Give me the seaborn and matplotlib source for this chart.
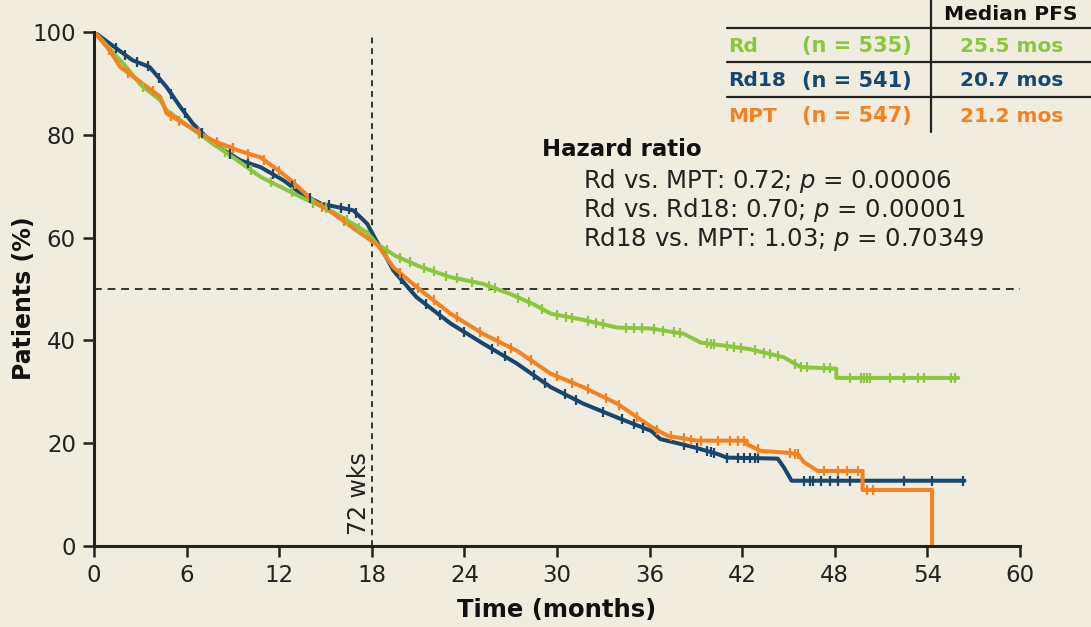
import numpy as np
import pandas as pd
import matplotlib.pyplot as plt
import seaborn as sns
from matplotlib.lines import Line2D

# Data -----------------------------------------------------------------------
rd_t = [0, 0.5, 1.0, 2.0, 3.0, 4.3, 4.7, 6.2, 7.7, 9.3, 10.8, 12.0, 13.4, 15.5, 17.7, 18.4,
        18.7, 19.5, 21.0, 23.1, 25.2, 27.0, 28.5, 29.6, 31.7, 33.9, 36.1, 38.2, 39.3, 42.5,
        44.7, 45.8, 48.1, 48.1, 56.0]
rd_v = [100, 98.5, 96.8, 93.5, 89.8, 86.7, 84.8, 81.5, 78.3, 75.0, 71.8, 70.0, 67.9, 65.0, 61.0, 58.5,
        58.1, 56.5, 54.5, 52.3, 51.0, 49.0, 47.0, 45.2, 44.0, 42.5, 42.3, 41.3, 39.6, 38.3,
        36.7, 34.8, 34.5, 32.7, 32.7]
rd_cens = [3.2, 6.8, 8.5, 10.2, 11.5, 12.8, 14.2, 15.0, 16.4, 17.2,
           19.0, 19.8, 20.5, 21.4, 22.0, 22.8, 23.5, 24.5, 25.6, 26.0, 27.5, 28.2, 29.0, 30.0,
           30.6, 31.0, 32.0, 32.5, 33.0, 34.5, 35.0, 35.5,
           36.3, 36.9, 37.6, 38.0, 39.7, 40.0, 40.2, 41.0, 41.5, 41.9, 42.8, 43.4, 43.8, 44.3,
           45.4, 45.8, 46.2, 47.3, 47.7, 49.0, 49.7, 49.9, 50.1, 50.3, 51.6, 52.5, 53.4, 53.8,
           55.5, 55.8]

rd18_t = [0, 1.0, 2.5, 3.6, 4.7, 5.6, 6.4, 7.7, 9.5, 10.8, 12.3, 13.4, 14.7, 16.8, 17.7, 18.4,
          18.7, 19.4, 20.9, 23.1, 25.2, 27.4, 29.6, 31.7, 33.9, 36.1, 36.7, 38.9, 40.4, 41.0,
          44.3, 44.7, 45.2, 56.4]
rd18_v = [100, 97.8, 94.5, 93.2, 89.3, 85.4, 82.2, 78.3, 75.0, 73.7, 71.1, 68.6, 66.6, 65.3, 62.7, 58.8,
          57.5, 53.6, 48.4, 43.3, 39.4, 35.5, 30.9, 27.7, 25.0, 22.4, 20.8, 19.2, 17.9, 17.2,
          17.0, 15.3, 12.7, 12.7]
rd18_cens = [1.4, 2.0, 2.8, 3.5, 4.2, 5.0, 5.9, 7.0, 8.8, 10.0, 11.6, 12.8, 14.0, 15.2,
             16.0, 16.5, 17.0, 19.9, 21.5, 22.4, 24.0, 25.8, 26.6, 28.5, 29.2, 30.5, 31.2,
             33.0, 34.2, 35.0, 35.6,
             38.2, 39.1, 39.7, 40.0, 40.2, 41.0, 41.7, 42.1, 42.5, 42.8, 43.0, 46.0, 46.4,
             46.6, 47.1, 47.7, 48.2, 49.0, 52.5, 54.3, 56.3]

mpt_t = [0, 1.0, 1.7, 3.0, 4.3, 4.7, 6.2, 7.7, 9.3, 10.8, 12.5, 14.2, 15.5, 17.0, 18.4, 19.4,
         20.9, 23.1, 25.2, 27.4, 29.6, 31.7, 33.9, 36.1, 37.2, 39.1, 42.3, 42.3, 43.2, 44.7,
         45.6, 46.0, 46.9, 49.8, 49.8, 54.3, 54.3]
mpt_v = [100, 96.5, 93.2, 90.3, 87.4, 84.2, 81.5, 78.9, 77.0, 75.6, 71.8, 67.2, 64.7, 61.4, 58.5, 54.2,
         50.4, 45.2, 41.3, 38.0, 33.5, 30.9, 27.7, 23.2, 21.4, 20.5, 20.5, 19.8, 18.5, 18.2,
         17.9, 16.3, 14.6, 14.6, 10.9, 10.9, 0]
mpt_cens = [1.0, 2.2, 3.8, 5.0, 5.5, 6.8, 8.0, 9.0, 10.0, 11.0, 12.0, 13.0, 14.8, 16.2,
            19.8, 21.0, 22.0, 23.5, 25.0, 26.2, 27.0, 28.3, 30.0, 31.0, 32.0, 33.2, 34.0, 35.2,
            36.5, 37.4, 38.2, 38.7, 39.3, 40.4, 41.2, 41.7, 42.1, 43.0, 45.1, 45.4, 45.6,
            47.3, 48.2, 48.8, 49.5, 50.1, 50.5]

arms = ["Rd", "Rd18", "MPT"]
n_pts = ["(n = 535)", "(n = 541)", "(n = 547)"]
median_pfs = ["25.5 mos", "20.7 mos", "21.2 mos"]
hazard_lines = [("Rd vs. MPT: 0.72; ", "0.00006"),
                ("Rd vs. Rd18: 0.70; ", "0.00001"),
                ("Rd18 vs. MPT: 1.03; ", "0.70349")]

colors = {"Rd": "#8cc63f", "Rd18": "#17466f", "MPT": "#f5821f"}
bg = "#f0ece0"

sns.set_style("ticks")
plt.rcParams['font.family'] = ['DejaVu Sans']
plt.rcParams['mathtext.fontset'] = 'dejavusans'

W, H = 1091, 627
fig = plt.figure(figsize=(W / 100, H / 100), dpi=100, facecolor=bg)
ax = fig.add_axes([94 / W, 1 - 546 / H, (1020 - 94) / W, (546 - 32) / H])
ax.set_facecolor(bg)

curves = {"Rd": (rd_t, rd_v, rd_cens), "Rd18": (rd18_t, rd18_v, rd18_cens),
          "MPT": (mpt_t, mpt_v, mpt_cens)}

# draw Rd18 first, then Rd, then MPT on top (like the original)
for arm in ["Rd18", "Rd", "MPT"]:
    t, v, cens = curves[arm]
    sns.lineplot(x=t, y=v, estimator=None, sort=False, color=colors[arm], lw=2.9, ax=ax)
    cy = np.interp(cens, t, v)
    sns.scatterplot(x=cens, y=cy, marker="|", s=60, linewidth=1.6, color=colors[arm], ax=ax, zorder=3)

# guide lines
ax.axhline(50, color="#333333", lw=1.4, ls=(0, (4, 3)), zorder=1)
ax.plot([18, 18], [0, 99.4], color="#333333", lw=1.4, ls=(0, (3, 2.5)), zorder=1)
ax.text(17.2, 2.2, "72 wks", rotation=90, ha="center", va="bottom", fontsize=17, color="#222222")

ax.set_xlim(0, 60)
ax.set_ylim(0, 100)
ax.set_xticks(np.arange(0, 61, 6))
ax.set_yticks(np.arange(0, 101, 20))
ax.tick_params(axis="both", direction="out", length=8, width=1.8, labelsize=16.5,
               colors="#222222", pad=5)
for side in ["top", "right"]:
    ax.spines[side].set_visible(False)
for side in ["left", "bottom"]:
    ax.spines[side].set_linewidth(2.2)
    ax.spines[side].set_color("#222222")
ax.set_xlabel("")
ax.set_ylabel("")
fig.text(557 / W, 1 - 610 / H, "Time (months)", ha="center", va="center",
         fontsize=17.5, fontweight="bold", color="#111111")
fig.text(24 / W, 1 - 298 / H, "Patients (%)", ha="center", va="center", rotation=90,
         fontsize=17, fontweight="bold", color="#111111")

# hazard ratio block
fig.text(542 / W, 1 - 150 / H, "Hazard ratio", ha="left", va="center",
         fontsize=16.5, fontweight="bold", color="#111111")
for i, (lead, pval) in enumerate(hazard_lines):
    fig.text(583 / W, 1 - (181 + 29 * i) / H, lead + r"$\it{p}$ = " + pval,
             ha="left", va="center", fontsize=17.6, color="#222222")

# median PFS table
def fline(x0, y0, x1, y1):
    fig.add_artist(Line2D([x0 / W, x1 / W], [1 - y0 / H, 1 - y1 / H], color="#222222", lw=1.6))

fline(931, 0, 931, 132)
for yy in [28, 62, 97]:
    fline(727, yy, W, yy)
fig.text(1011 / W, 1 - 14 / H, "Median PFS", ha="center", va="center",
         fontsize=14.5, fontweight="bold", color="#111111")
for i, arm in enumerate(arms):
    yy = 1 - (46 + 35 * i) / H
    fig.text(728 / W, yy, arm, ha="left", va="center", fontsize=14.5, fontweight="bold", color=colors[arm])
    fig.text(912 / W, yy, n_pts[i], ha="right", va="center", fontsize=15, fontweight="bold", color=colors[arm])
    fig.text(1012 / W, yy, median_pfs[i], ha="center", va="center", fontsize=14.5, fontweight="bold", color=colors[arm])

fig.savefig("out.png", dpi=100, facecolor=bg)
